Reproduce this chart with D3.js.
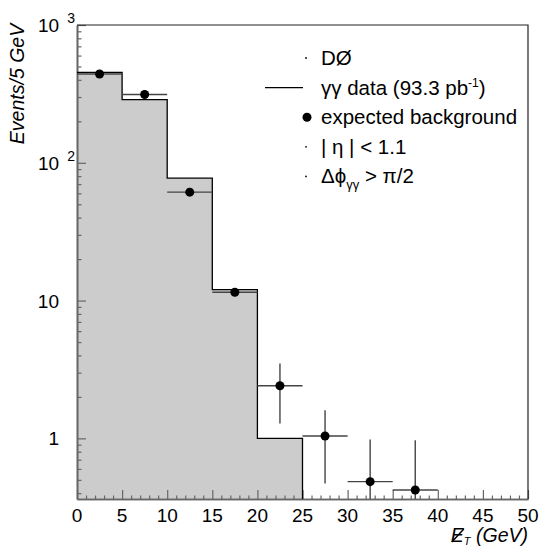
<!DOCTYPE html>
<html><head><meta charset="utf-8">
<script src="https://cdn.jsdelivr.net/npm/d3@7"></script>
<style>
html,body{margin:0;padding:0;background:#fff;}
svg{display:block;font-family:"Liberation Sans",Arial,Helvetica,sans-serif;}
</style></head>
<body>
<svg id="c" width="540" height="548"></svg>
<script>
// ---------- data ----------
const binEdges   = [0, 5, 10, 15, 20, 25];           // γγ data histogram bins (GeV)
const dataCounts = [453, 287, 77.3, 12.0, 1.0];       // γγ data events / 5 GeV
const bkgCenters = [2.5, 7.5, 12.5, 17.5, 22.5, 27.5, 32.5, 37.5];
const bkgValues  = [441, 313, 61.2, 11.5, 2.41, 1.04, 0.485, 0.422];
const bkgErrLow  = [441, 313, 61.2, 11.5, 1.28, 0.47, 0.30, 0.30];
const bkgErrHigh = [441, 313, 61.2, 11.5, 3.5, 1.6, 0.98, 0.97];
const bkgHalfWidth = 2.5;
const xTicksMajor = [0, 5, 10, 15, 20, 25, 30, 35, 40, 45, 50];
const yTicksMajor = [1, 10, 100, 1000];
const yTickLabels = [["1",""], ["10",""], ["10","2"], ["10","3"]];
const legendLabels = ["DØ", "γγ data", "expected background", "| η | < 1.1", "Δϕ"];
const legendKinds  = ["dot", "line", "marker", "dot", "dot"];

// ---------- layout ----------
const svg = d3.select("#c");
const L = 77, R = 528, T = 25, B = 499;
const x = d3.scaleLinear().domain([0, 50]).range([L, R]);
const y = d3.scaleLog().domain([0.363, 1000]).range([B, T]);
const font = 19;

// histogram fill + outline
const steps = [];
dataCounts.forEach((v, i) => { steps.push([binEdges[i], v]); steps.push([binEdges[i + 1], v]); });
const area = d3.area().x(d => x(d[0])).y0(y(0.363)).y1(d => y(d[1]));
svg.append("path").datum(steps).attr("d", area).attr("fill", "#cccccc");

// minor ticks
const yMinor = [];
[0.1, 1, 10, 100].forEach(d => { for (let k = 2; k <= 9; k++) { const v = d * k; if (v >= 0.363 && v < 1000) yMinor.push(v); } });
const xMinor = d3.range(0, 51, 1).filter(v => v % 5 !== 0);

const axisColor = "#666";
const gy = svg.append("g").attr("transform", `translate(${L},0)`);
gy.call(d3.axisLeft(y).tickValues(yMinor).tickSizeInner(-4.5).tickSizeOuter(0).tickFormat(""));
gy.append("g").call(d3.axisLeft(y).tickValues(yTicksMajor).tickSizeInner(-9).tickSizeOuter(0).tickFormat(""));
const gx = svg.append("g").attr("transform", `translate(0,${B})`);
gx.call(d3.axisBottom(x).tickValues(xMinor).tickSizeInner(-3.5).tickSizeOuter(0).tickFormat(""));
gx.append("g").call(d3.axisBottom(x).tickValues(xTicksMajor).tickSizeInner(-9).tickSizeOuter(0).tickFormat(""));
svg.selectAll(".domain").attr("stroke", axisColor).attr("stroke-width", 1.6);
svg.selectAll(".tick line").attr("stroke", axisColor).attr("stroke-width", 1.2);

// frame top/right
svg.append("path").attr("d", `M${L},${T}H${R}V${B}`).attr("fill", "none").attr("stroke", "#222").attr("stroke-width", 1.2);

// histogram outline
const outline = d3.line().x(d => x(d[0])).y(d => y(d[1]));
const outPts = [[0, dataCounts[0]]].concat(steps.slice(1)).concat([[binEdges[binEdges.length - 1], 0.363]]);
svg.append("path").datum(outPts).attr("d", outline).attr("fill", "none").attr("stroke", "#000").attr("stroke-width", 1.3);

// background error bars
const clampY = v => y(Math.max(v, 0.363));
const eb = svg.append("g").attr("stroke", "#444").attr("stroke-width", 1.4);
bkgCenters.forEach((c, i) => {
  eb.append("line").attr("x1", x(c - bkgHalfWidth)).attr("x2", x(c + bkgHalfWidth))
    .attr("y1", y(bkgValues[i])).attr("y2", y(bkgValues[i]));
  eb.append("line").attr("x1", x(c)).attr("x2", x(c))
    .attr("y1", clampY(bkgErrLow[i])).attr("y2", y(bkgErrHigh[i]));
});
svg.append("g").selectAll("circle").data(bkgCenters).join("circle")
  .attr("cx", d => x(d)).attr("cy", (d, i) => y(bkgValues[i])).attr("r", 4.5).attr("fill", "#000");

// x tick labels
svg.append("g").selectAll("text").data(xTicksMajor).join("text")
  .attr("x", d => x(d)).attr("y", 522).attr("text-anchor", "middle")
  .attr("font-size", font).text(d => d);

// y tick labels
yTicksMajor.forEach((v, i) => {
  const [base, exp] = yTickLabels[i];
  if (!exp) {
    svg.append("text").attr("x", 59).attr("y", y(v) + 7).attr("text-anchor", "end")
      .attr("font-size", font).text(base);
  } else {
    const t = svg.append("text").attr("x", 38).attr("y", y(v) + 7).attr("font-size", font);
    t.append("tspan").text(base);
    t.append("tspan").attr("dx", 8).attr("dy", -9).attr("font-size", 14).text(exp);
  }
});

// y axis title
svg.append("text").attr("transform", "translate(24,84) rotate(-90)").attr("text-anchor", "middle")
  .attr("font-size", 19.5).attr("font-style", "italic").text("Events/5 GeV");

// x axis title: missing E_T
const xBase = 542;
const xt = svg.append("text").attr("x", R).attr("y", xBase).attr("text-anchor", "end")
  .attr("font-size", 19.5).attr("font-style", "italic");
xt.append("tspan").text("E");
xt.append("tspan").attr("dy", 3).attr("font-size", 11).text("T");
xt.append("tspan").attr("dy", -3).text(" (GeV)");
{
  const bb = xt.node().getBBox();
  const ex = bb.x;
  svg.append("line").attr("x1", ex + 1).attr("y1", xBase).attr("x2", ex + 13).attr("y2", xBase - 13)
    .attr("stroke", "#000").attr("stroke-width", 1.5);
}

// legend
const lgX = 321, lgY0 = 65, lgDy = 29.6;
const lg = svg.append("g").attr("font-size", 20.5);
legendLabels.forEach((lab, i) => {
  const yy = lgY0 + i * lgDy;
  const kind = legendKinds[i];
  if (kind === "dot") lg.append("circle").attr("cx", 306).attr("cy", yy - 7).attr("r", 0.9).attr("fill", "#000");
  if (kind === "line") lg.append("line").attr("x1", 265).attr("x2", 303).attr("y1", yy - 7).attr("y2", yy - 7).attr("stroke", "#000").attr("stroke-width", 1.2);
  if (kind === "marker") lg.append("circle").attr("cx", 307).attr("cy", yy - 7).attr("r", 4.5).attr("fill", "#000");
  const t = lg.append("text").attr("x", lgX).attr("y", yy);
  t.append("tspan").text(lab);
  if (i === 1) {
    t.append("tspan").text(" (93.3  pb");
    t.append("tspan").attr("dy", -8).attr("font-size", 12).text("-1");
    t.append("tspan").attr("dy", 8).text(")");
  }
  if (i === 4) {
    t.append("tspan").attr("dy", 6).attr("font-size", 13).text("γγ");
    t.append("tspan").attr("dy", -6).text(" > π/2");
  }
});
</script>
</body></html>
